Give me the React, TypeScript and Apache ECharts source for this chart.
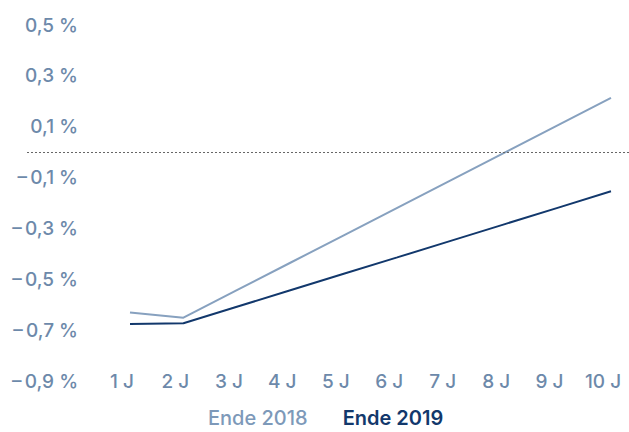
import React, { useEffect, useRef } from "react";
import * as echarts from "echarts";

const years = [1, 2, 3, 4, 5, 6, 7, 8, 9, 10];
const yearLabels = ["1 J", "2 J", "3 J", "4 J", "5 J", "6 J", "7 J", "8 J", "9 J", "10 J"];
const yTicks = [-0.9, -0.7, -0.5, -0.3, -0.1, 0.1, 0.3, 0.5];
const seriesNames = ["Ende 2018", "Ende 2019"];
const ende2018 = [-0.631, -0.651, -0.543, -0.435, -0.327, -0.219, -0.111, -0.003, 0.105, 0.213];
const ende2019 = [-0.676, -0.673, -0.608, -0.543, -0.478, -0.414, -0.349, -0.284, -0.219, -0.154];

const LIGHT = "#87a1bf";
const DARK = "#12386c";
const LABEL = "#6d89aa";
const FONT = "Inter, 'Noto Sans', sans-serif";

function fmtY(v: number) {
  const s = Math.abs(v).toFixed(1).replace(".", ",");
  return (v < 0 ? "\u2013\u2009" : "") + s + " %";
}

export default function App() {
  const ref = useRef<HTMLDivElement>(null);
  useEffect(() => {
    document.body.style.margin = "0";
    const chart = echarts.init(ref.current!, null, { renderer: "svg" });
    const toPairs = (arr: number[]) => years.map((x, i) => [x, arr[i]]);
    chart.setOption({
      animation: false,
      grid: { left: 27, right: 0, top: 25, bottom: 51, containLabel: false },
      legend: {
        top: 407,
        left: 198,
        padding: [0, 5, 0, 5],
        itemWidth: 0,
        itemHeight: 0,
        itemGap: 30,
        icon: "rect",
        textStyle: { fontFamily: FONT, fontSize: 20, lineHeight: 22, padding: 0 },
        data: [
          { name: seriesNames[0], textStyle: { color: "#7d99b9", fontWeight: 500 } },
          { name: seriesNames[1], textStyle: { color: DARK, fontWeight: 600 } },
        ],
      },
      xAxis: {
        type: "value",
        min: -0.927,
        max: 10.337,
        axisLine: { show: false },
        axisTick: { show: false },
        splitLine: { show: false },
        axisLabel: {
          customValues: years,
          margin: 0,
          verticalAlign: "middle",
          color: LABEL,
          fontFamily: FONT,
          fontSize: 19,
          fontWeight: 500,
          padding: [0, 16, 0, 0],
          formatter: (v: number) => {
            const i = years.indexOf(Math.round(v));
            return i >= 0 ? yearLabels[i] : "";
          },
        },
      },
      yAxis: {
        type: "value",
        min: -0.9,
        max: 0.5,
        offset: -51,
        axisLine: { show: false },
        axisTick: { show: false },
        splitLine: { show: false },
        axisLabel: {
          customValues: yTicks,
          margin: 0,
          align: "right",
          color: LABEL,
          fontFamily: FONT,
          fontSize: 19,
          fontWeight: 500,
          formatter: (v: number) => fmtY(v),
        },
      },
      series: [
        {
          name: seriesNames[0],
          type: "line",
          data: toPairs(ende2018),
          showSymbol: false,
          symbol: "none",
          lineStyle: { color: LIGHT, width: 2 },
          itemStyle: { color: LIGHT },
          markLine: {
            silent: true,
            symbol: "none",
            label: { show: false },
            lineStyle: { color: "#666", width: 1, type: [2, 2] },
            data: [{ yAxis: 0 }],
          },
        },
        {
          name: seriesNames[1],
          type: "line",
          data: toPairs(ende2019),
          showSymbol: false,
          symbol: "none",
          lineStyle: { color: DARK, width: 2 },
          itemStyle: { color: DARK },
        },
      ],
    });
    return () => chart.dispose();
  }, []);
  return <div ref={ref} style={{ width: 629, height: 432 }} />;
}
